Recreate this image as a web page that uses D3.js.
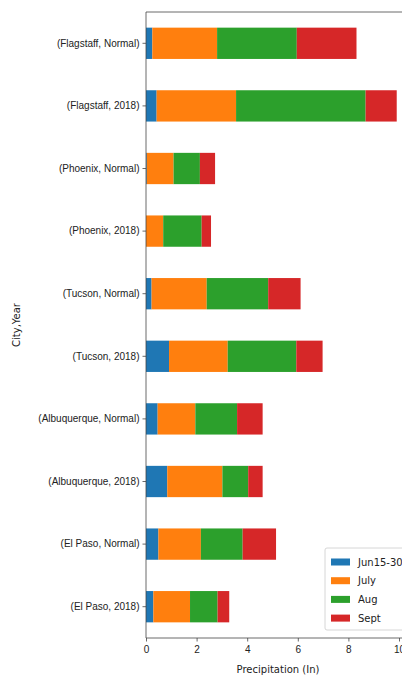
<!DOCTYPE html>
<html>
<head>
<meta charset="utf-8">
<script src="https://cdn.jsdelivr.net/npm/d3@7"></script>
<style>
    body { margin: 0; background: #fff; }
    svg { display: block; font-family: "DejaVu Sans", sans-serif; }
    .axis text { font-size: 10px; fill: #222; }
    .axis path, .axis line { stroke: #444; stroke-width: 0.8; }
</style>
</head>
<body>
<svg id="chart" width="402" height="676"></svg>
<script>
// top to bottom order, as drawn
const cities = [
    '(Flagstaff, Normal)', '(Flagstaff, 2018)',
    '(Phoenix, Normal)', '(Phoenix, 2018)',
    '(Tucson, Normal)', '(Tucson, 2018)',
    '(Albuquerque, Normal)', '(Albuquerque, 2018)',
    '(El Paso, Normal)', '(El Paso, 2018)',
];
const periods = ['Jun15-30', 'July', 'Aug', 'Sept'];
const jun = [0.25, 0.42, 0.03, 0.0, 0.22, 0.91, 0.46, 0.84, 0.49, 0.29];
const july = [2.56, 3.14, 1.06, 0.68, 2.18, 2.32, 1.49, 2.18, 1.68, 1.45];
const aug = [3.15, 5.12, 1.04, 1.52, 2.43, 2.71, 1.65, 1.02, 1.65, 1.09];
const sept = [2.36, 1.23, 0.6, 0.37, 1.28, 1.04, 1.01, 0.57, 1.32, 0.46];
const xTicks = [0, 2, 4, 6, 8, 10];
const colors = ['#1f77b4', '#ff7f0e', '#2ca02c', '#d62728'];

const margin = { top: 12, left: 146, bottom: 38 };
const width = 402;
const height = 676;

const rows = cities.map((c, i) => ({
    city: c, 'Jun15-30': jun[i], July: july[i], Aug: aug[i], Sept: sept[i],
}));
const series = d3.stack().keys(periods)(rows);

const svg = d3.select('#chart');

const xCoord = d3.scaleLinear().domain([0, 10.4]).range([margin.left, margin.left + 10.4 * 25.3]);
const yCoord = d3.scaleBand()
    .domain(cities)
    .range([margin.top, height - margin.bottom])
    .paddingInner(0.5)
    .paddingOuter(0.25);
const color = d3.scaleOrdinal().domain(periods).range(colors);

svg.append('g')
    .selectAll('g')
    .data(series)
    .join('g')
    .attr('fill', d => color(d.key))
    .selectAll('rect')
    .data(d => d)
    .join('rect')
    .attr('x', d => xCoord(d[0]))
    .attr('width', d => xCoord(d[1]) - xCoord(d[0]))
    .attr('y', d => yCoord(d.data.city))
    .attr('height', yCoord.bandwidth());

// top spine
svg.append('line')
    .attr('x1', margin.left).attr('x2', width)
    .attr('y1', margin.top).attr('y2', margin.top)
    .attr('stroke', '#444').attr('stroke-width', 0.8);

svg.append('g')
    .attr('class', 'axis axis--x')
    .attr('transform', `translate(0, ${height - margin.bottom})`)
    .call(d3.axisBottom(xCoord).tickValues(xTicks).tickSize(3.5).tickPadding(4.5).tickSizeOuter(0));

svg.append('g')
    .attr('class', 'axis axis--y')
    .attr('transform', `translate(${margin.left}, 0)`)
    .call(d3.axisLeft(yCoord).tickSize(3.5).tickPadding(3).tickSizeOuter(0));

svg.select('.axis--x .domain').attr('d', `M${margin.left},0H${width}`);
svg.select('.axis--y .domain').attr('d', `M0,${margin.top}V${height - margin.bottom}`);

svg.append('text')
    .attr('x', 278).attr('y', 673)
    .attr('text-anchor', 'middle')
    .attr('font-size', 10).attr('fill', '#222')
    .text('Precipitation (In)');

svg.append('text')
    .attr('transform', `translate(20, ${(margin.top + height - margin.bottom) / 2}) rotate(-90)`)
    .attr('text-anchor', 'middle')
    .attr('font-size', 10).attr('fill', '#222')
    .text('City,Year');

// legend
const legend = svg.append('g').attr('transform', 'translate(325, 548)');
legend.append('rect')
    .attr('width', 90).attr('height', 82).attr('rx', 2)
    .attr('fill', '#fff').attr('fill-opacity', 0.8)
    .attr('stroke', '#ccc').attr('stroke-width', 0.8);
const item = legend.selectAll('.item')
    .data(periods)
    .join('g')
    .attr('class', 'item')
    .attr('transform', (d, i) => `translate(6, ${14 + i * 18.7})`);
item.append('rect')
    .attr('y', -3.5).attr('width', 19).attr('height', 7)
    .attr('fill', d => color(d));
item.append('text')
    .attr('x', 27).attr('dy', '0.35em')
    .attr('font-size', 10).attr('fill', '#222')
    .text(d => d);
</script>
</body>
</html>
